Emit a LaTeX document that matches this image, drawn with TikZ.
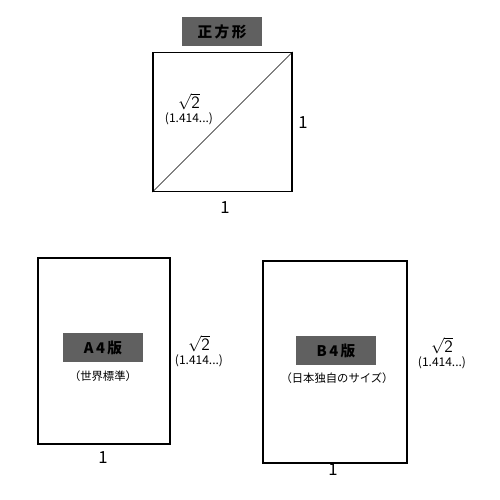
\documentclass[tikz,border=0pt]{standalone}
\usepackage{fontspec}
\setmainfont{Noto Sans CJK JP}
\usetikzlibrary{positioning}
\definecolor{namegray}{RGB}{96,96,96}

\begin{document}
\begin{tikzpicture}[x=0.75pt, y=-0.75pt,
  paper/.style={draw, line width=0.8pt, inner sep=0pt},
  namebox/.style={fill=namegray, minimum width=60pt, minimum height=21.75pt, inner sep=0pt, font=\bfseries\fontsize{11}{13}\selectfont},
  sidelabel/.style={inner sep=0pt, font=\fontsize{12.5}{14}\selectfont},
  rootlabel/.style={align=center, inner sep=0pt, font=\fontsize{9}{11}\selectfont},
  sublabel/.style={inner sep=0pt, font=\fontsize{8.5}{10}\selectfont}]

  \useasboundingbox (0,0) rectangle (500,500);

  % square
  \node[paper, minimum width=104.25pt, minimum height=104.25pt] (square) at (222.5,122) {};
  \draw[line width=0.5pt] (square.south west) -- (square.north east);
  \node[namebox] (squarename) at (222,31.5) {正\,方\,形};
  \node[rootlabel] (squareroot) at (189,109) {{\fontsize{13}{14}\selectfont$\sqrt{\mathsf{2}}$}\\(1.414...)};
  \node[sidelabel] (squareside) at (303,123) {1};
  \node[sidelabel] (squarebase) at (225,208) {1};

  % A4
  \node[paper, minimum width=99pt, minimum height=139.5pt] (paperA) at (104,351) {};
  \node[namebox] (nameA) at (103,347.5) {A\,4\,版};
  \node[sublabel] (subA) at (103,376) {（世界標準）};
  \node[rootlabel] (rootA) at (199,351) {{\fontsize{13}{14}\selectfont$\sqrt{\mathsf{2}}$}\\(1.414...)};
  \node[sidelabel] (baseA) at (103,458) {1};

  % B4
  \node[paper, minimum width=108pt, minimum height=151.5pt] (paperB) at (335,362) {};
  \node[namebox] (nameB) at (336,350.5) {B\,4\,版};
  \node[sublabel] (subB) at (337,378) {（日本独自のサイズ）};
  \node[rootlabel] (rootB) at (442,353) {{\fontsize{13}{14}\selectfont$\sqrt{\mathsf{2}}$}\\(1.414...)};
  \node[sidelabel] (baseB) at (333,470) {1};
\end{tikzpicture}
\end{document}
